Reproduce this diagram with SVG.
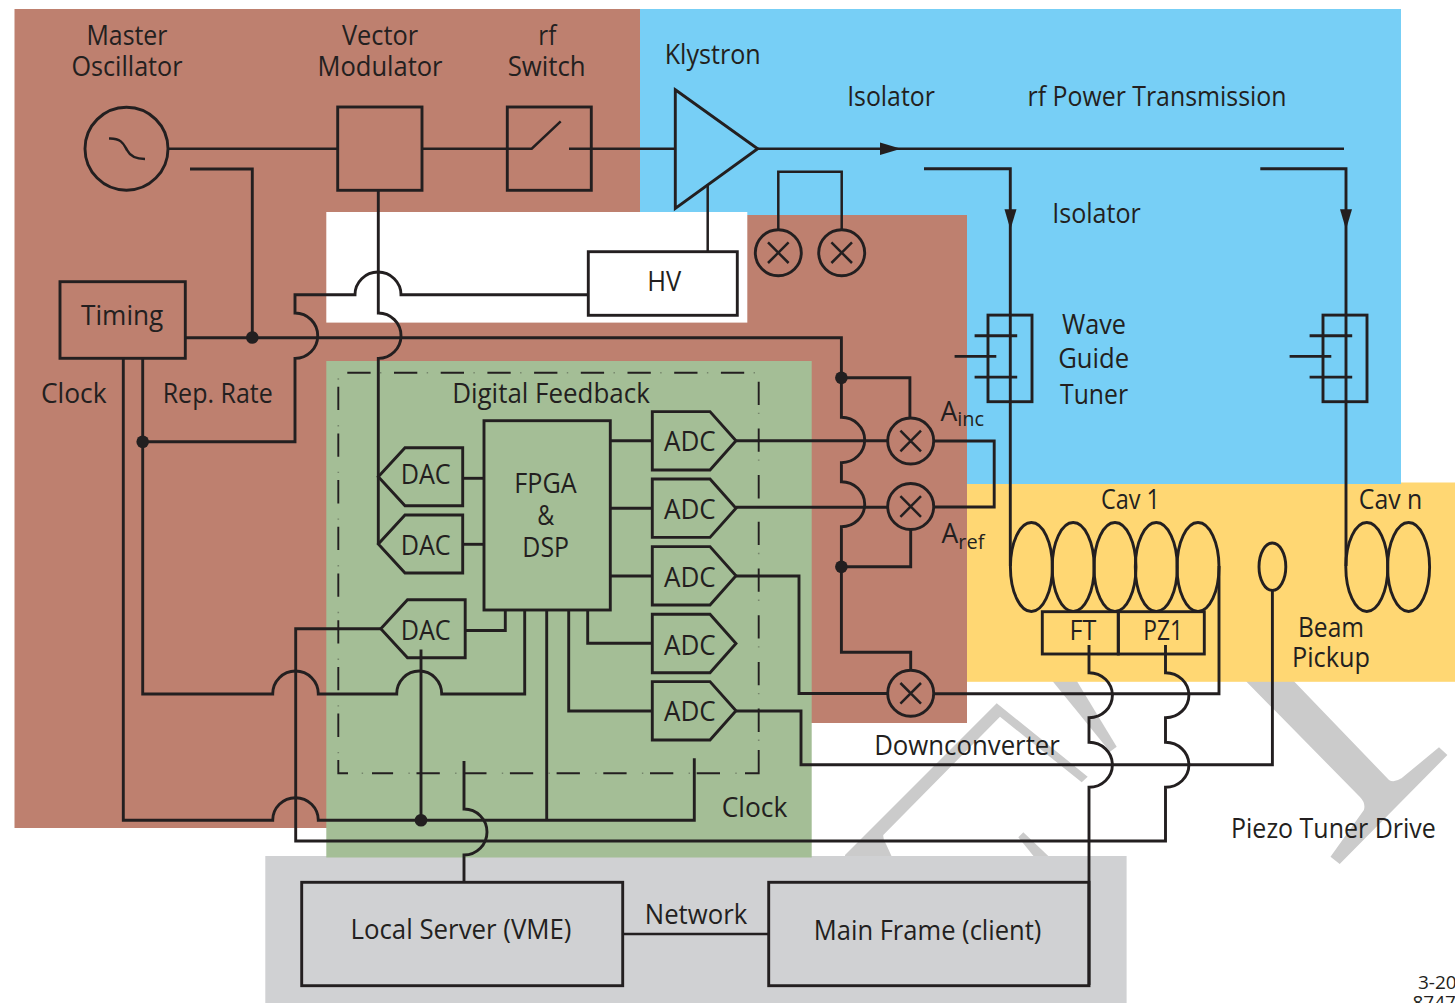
<svg xmlns="http://www.w3.org/2000/svg" width="1455" height="1003" viewBox="0 0 1455 1003">
<defs>
<style>
.l{fill:none;stroke:#231F20;stroke-width:2.5;stroke-linejoin:miter}
.s{fill:none;stroke:#231F20;stroke-width:2.9;stroke-linejoin:miter}
.d{fill:none;stroke:#231F20;stroke-width:1.9;stroke-dasharray:23.3 23.4}
.dd{fill:none;stroke:#231F20;stroke-opacity:.35;stroke-width:1.6;stroke-dasharray:1.4 45.3}
.f{fill:none;stroke:#231F20;stroke-width:1.9}
.dot{fill:#231F20;stroke:none}
.arr{fill:#231F20;stroke:none}
.wm{fill:#CBCBCB;stroke:none}
text{font-family:"Open Sans","Noto Sans","Liberation Sans",sans-serif;font-size:26.5px;fill:#231F20;text-anchor:middle}
.sub{font-size:20px}
.st{text-anchor:start}
.sm{font-size:19px}
</style>
<g id="mixer"><circle r="23" class="s"/><path d="M-10.3,-10.3L10.3,10.3M-10.3,10.3L10.3,-10.3" class="l"/></g>
<path id="adc" d="M0,-29.2H57.7L83.7,0L57.7,29.2H0Z" class="s"/>
<path id="dac" d="M0,0L26.7,-29H84.4V29H26.7Z" class="s"/>
<g id="tuner"><rect x="-22" y="-43.3" width="44" height="86.6" class="s"/><path d="M-35.4,-22.6H7.2M-55.4,-2H-13.7M-35.4,18.7H7.2" class="s"/></g>
</defs>

<g id="background">
<path class="wm" d="M996.7,703.3L1087.7,776.7L1081.7,782.3L1000,716.7L883.3,835Q883,840 886,844L893.3,860H845V855Z"/>
<path class="wm" d="M1023.3,832.3L1018.3,837.3L1036.7,860H1048.3V856Z"/>
<path class="wm" d="M1050,678H1075L1116.7,746.7L1110,751.7Z"/>
<path class="wm" d="M1242.8,678L1359.7,796.7Q1366,803 1363.9,810L1330.5,856.7L1339.7,864L1447.4,755L1439,747.3L1401.5,778.3Q1394,783 1389,780L1290.8,678Z"/>
<rect x="967" y="482.5" width="488" height="199.3" fill="#FFD773"/>
<rect x="640" y="9" width="761" height="475" fill="#77CFF6"/>
<rect x="265.3" y="856" width="861.3" height="147" fill="#D0D1D3"/>
<path d="M14.5,9H640V215H967V723H811V828H14.5Z" fill="#BE806F"/>
<rect x="326.3" y="212" width="421" height="110.6" fill="#FFFFFF"/>
<rect x="326.3" y="361" width="485.4" height="496.5" fill="#A4BE96"/>
</g>

<g id="connectors">
<path class="l" d="M168,148.7H337.7"/>
<path class="l" d="M422,148.7H531.7L560.7,121.3"/>
<path class="l" d="M569,148.7H675.3"/>
<path class="l" d="M757.7,148.7H1344"/>
<path class="arr" d="M880,142.5L901,148.7L880,155Z"/>
<path class="l" d="M707.7,184.3V251.7"/>
<path class="l" d="M778.3,230V171.7H841.7V230"/>
<path class="s" d="M924,168.7H1010.3V566"/>
<path class="arr" d="M1004.5,209.3H1016.5L1010.4,229.5Z"/>
<path class="s" d="M1260.3,168.7H1346V566"/>
<path class="arr" d="M1340,209.3H1352L1346,229.5Z"/>
<path class="s" d="M190,169H252.3V337.5"/>
<path class="s" d="M186,337.7H841.4V417.3A23.3,22.7 0 0 1 841.4,462.7V481.7A23.3,22.5 0 0 1 841.4,526.7V652.3H910.7V670"/>
<path class="s" d="M841.4,377.7H909.9V418"/>
<path class="s" d="M841.4,566.7H910.7V529"/>
<path class="s" d="M378.3,190.3V313A22.7,22.7 0 0 1 378.3,358.4V543.3"/>
<path class="s" d="M142.7,441.7H295V358.4A22.7,22.7 0 0 0 295,313V294.7H355A23,22.7 0 0 1 401,294.7H588.3"/>
<path class="s" d="M142.7,358.3V694H272.7A22.8,23 0 0 1 318.3,694H396.7A22.5,23 0 0 1 441.7,694H524.7V610"/>
<path class="s" d="M123.3,358.3V820.3H272.7A22.8,22.6 0 0 1 318.3,820.3H694.3V758.3"/>
<path class="s" d="M546.7,610V820.3"/>
<path class="s" d="M421,649.5V820.3"/>
<path class="s" d="M464,761V809A23,23 0 0 1 464,855V882.3"/>
<path class="s" d="M381.3,628.7H295.7V841H1165.5V787.3A23.4,22.5 0 0 0 1165.5,742.3V717.7A23.4,22.5 0 0 0 1165.5,672.7V645"/>
<path class="s" d="M1089,645V672.7A23.4,22.5 0 0 1 1089,717.7V742.3A23.4,22.5 0 0 1 1089,787.3V985"/>
<path class="s" d="M462.7,478.3H484"/>
<path class="s" d="M462.7,544.3H484"/>
<path class="s" d="M464.7,630.5H505.3V610"/>
<path class="s" d="M610.3,440.7H652.3"/>
<path class="s" d="M610.3,508.3H652.3"/>
<path class="s" d="M610.3,576H652.3"/>
<path class="s" d="M587.7,610V643.3H652.3"/>
<path class="s" d="M568.7,610V711H652.3"/>
<path class="s" d="M736,440.7H887.7"/>
<path class="s" d="M736,507.3H887.7"/>
<path class="s" d="M933.7,441H994.2V507H933.7"/>
<path class="s" d="M736,576H799V693.5H887.7"/>
<path class="s" d="M933.7,693.7H1219V566"/>
<path class="s" d="M736,711H801V764.7H1272.4V590.4"/>
<path class="l" d="M622.7,934H768.7"/>
<circle class="dot" cx="252.3" cy="337.5" r="6.3"/>
<circle class="dot" cx="142.7" cy="441.7" r="6.3"/>
<circle class="dot" cx="421" cy="820.3" r="6.3"/>
<circle class="dot" cx="841.4" cy="377.7" r="6.3"/>
<circle class="dot" cx="841.4" cy="566.7" r="6.3"/>
</g>

<g id="digital-feedback">
<path class="d" d="M347.3,372.7H745"/>
<path class="d" d="M758.7,381.7V750"/>
<path class="f" d="M758.7,750V773.3H745"/>
<path class="d" d="M720,773.3H372"/>
<path class="f" d="M338.3,760V773.3H348"/>
<path class="d" d="M338.3,386.7V745"/>
<path class="dd" d="M380,372.7H755"/>
<path class="dd" d="M758.7,412.7V760"/>
<path class="dd" d="M361.7,773.3H745"/>
<path class="dd" d="M338.3,378.3V760"/>
<text x="551" y="402.7" textLength="197.7" lengthAdjust="spacingAndGlyphs">Digital Feedback</text>
</g>

<g id="master-oscillator">
<circle cx="126.5" cy="148.7" r="41.5" class="s"/>
<path class="l" d="M109,138.5C122,138 124,145 127,150C130,156 135,159 145,159"/>
<text x="127" y="45" textLength="81" lengthAdjust="spacingAndGlyphs">Master</text>
<text x="127" y="76" textLength="111" lengthAdjust="spacingAndGlyphs">Oscillator</text>
</g>
<g id="vector-modulator">
<rect x="337.7" y="107" width="84.3" height="83.3" class="s"/>
<text x="380" y="45" textLength="76" lengthAdjust="spacingAndGlyphs">Vector</text>
<text x="380" y="76" textLength="125" lengthAdjust="spacingAndGlyphs">Modulator</text>
</g>
<g id="rf-switch">
<rect x="507.3" y="107" width="84" height="83.3" class="s"/>
<text x="547.3" y="44.5" textLength="18" lengthAdjust="spacingAndGlyphs">rf</text>
<text x="546.7" y="75.7" textLength="78" lengthAdjust="spacingAndGlyphs">Switch</text>
</g>
<g id="klystron">
<path d="M675.3,89.7L757.7,148.7L675.3,208.3Z" class="s"/>
<text x="712.7" y="64.3" textLength="96" lengthAdjust="spacingAndGlyphs">Klystron</text>
</g>
<g id="hv">
<rect x="588.3" y="251.7" width="149" height="63.6" class="s"/>
<text x="664.3" y="290.7" textLength="34" lengthAdjust="spacingAndGlyphs">HV</text>
</g>
<g id="timing">
<rect x="60" y="281.7" width="125.3" height="76.6" class="s"/>
<text x="122.2" y="325" textLength="82.3" lengthAdjust="spacingAndGlyphs">Timing</text>
</g>
<g id="fpga-dsp">
<rect x="484" y="420.7" width="126.3" height="189.3" class="s"/>
<text x="545.5" y="492.7" textLength="62.3" lengthAdjust="spacingAndGlyphs">FPGA</text>
<text x="545.7" y="525" textLength="17" lengthAdjust="spacingAndGlyphs">&amp;</text>
<text x="545.7" y="556.7" textLength="46.7" lengthAdjust="spacingAndGlyphs">DSP</text>
</g>
<g id="dac-1"><use href="#dac" x="378.3" y="476.7"/><text x="425.7" y="484.3" textLength="50" lengthAdjust="spacingAndGlyphs">DAC</text></g>
<g id="dac-2"><use href="#dac" x="378.3" y="544"/><text x="425.7" y="555" textLength="50" lengthAdjust="spacingAndGlyphs">DAC</text></g>
<g id="dac-3"><use href="#dac" x="380.8" y="628.8"/><text x="425.7" y="640" textLength="50" lengthAdjust="spacingAndGlyphs">DAC</text></g>
<g id="adc-1"><use href="#adc" x="652.3" y="440.8"/><text x="689.8" y="450.7" textLength="51.7" lengthAdjust="spacingAndGlyphs">ADC</text></g>
<g id="adc-2"><use href="#adc" x="652.3" y="508.2"/><text x="689.8" y="519.3" textLength="51.7" lengthAdjust="spacingAndGlyphs">ADC</text></g>
<g id="adc-3"><use href="#adc" x="652.3" y="575.8"/><text x="689.8" y="586.7" textLength="51.7" lengthAdjust="spacingAndGlyphs">ADC</text></g>
<g id="adc-4"><use href="#adc" x="652.3" y="643.5"/><text x="689.8" y="655" textLength="51.7" lengthAdjust="spacingAndGlyphs">ADC</text></g>
<g id="adc-5"><use href="#adc" x="652.3" y="710.8"/><text x="689.8" y="720.7" textLength="51.7" lengthAdjust="spacingAndGlyphs">ADC</text></g>
<g id="mixer-a"><use href="#mixer" x="778.3" y="252.7"/></g>
<g id="mixer-b"><use href="#mixer" x="841.7" y="252.7"/></g>
<g id="mixer-inc"><use href="#mixer" x="910.7" y="441"/></g>
<g id="mixer-ref"><use href="#mixer" x="910.7" y="506.5"/></g>
<g id="mixer-down"><use href="#mixer" x="910.7" y="693.3"/></g>
<g id="tuner-1"><use href="#tuner" x="1010" y="358.4"/></g>
<g id="tuner-n"><use href="#tuner" x="1345" y="358.4"/></g>
<g id="cav-1">
<ellipse cx="1031.4" cy="567" rx="21" ry="44.5" class="s"/>
<ellipse cx="1073.2" cy="567" rx="21" ry="44.5" class="s"/>
<ellipse cx="1115" cy="567" rx="21" ry="44.5" class="s"/>
<ellipse cx="1156.3" cy="567" rx="21" ry="44.5" class="s"/>
<ellipse cx="1198" cy="567" rx="21" ry="44.5" class="s"/>
<text x="1130.4" y="509.3" textLength="59" lengthAdjust="spacingAndGlyphs">Cav 1</text>
</g>
<g id="cav-n">
<ellipse cx="1366.8" cy="567" rx="21" ry="44.5" class="s"/>
<ellipse cx="1408.6" cy="567" rx="21" ry="44.5" class="s"/>
<text x="1390.6" y="509.3" textLength="63.5" lengthAdjust="spacingAndGlyphs">Cav n</text>
</g>
<g id="ft">
<rect x="1042.3" y="611.7" width="76" height="42.3" class="s"/>
<text x="1083" y="640" textLength="26.8" lengthAdjust="spacingAndGlyphs">FT</text>
</g>
<g id="pz1">
<rect x="1118.3" y="611.7" width="86" height="42.3" class="s"/>
<text x="1163.2" y="640" textLength="39.7" lengthAdjust="spacingAndGlyphs">PZ1</text>
</g>
<g id="beam-pickup">
<ellipse cx="1272.4" cy="566.7" rx="13.4" ry="23.7" class="s"/>
<text x="1331" y="636.7" textLength="66" lengthAdjust="spacingAndGlyphs">Beam</text>
<text x="1331" y="666.7" textLength="78" lengthAdjust="spacingAndGlyphs">Pickup</text>
</g>
<g id="local-server">
<rect x="301.7" y="882.3" width="321" height="103.4" class="s"/>
<text x="461" y="939.3" textLength="221" lengthAdjust="spacingAndGlyphs">Local Server (VME)</text>
</g>
<g id="main-frame">
<rect x="768.7" y="882.3" width="320.3" height="103.4" class="s"/>
<text x="927.6" y="940" textLength="227.6" lengthAdjust="spacingAndGlyphs">Main Frame (client)</text>
</g>

<g id="labels">
<text x="891" y="105.7" textLength="87.7" lengthAdjust="spacingAndGlyphs">Isolator</text>
<text x="1157" y="105.7" textLength="259" lengthAdjust="spacingAndGlyphs">rf Power Transmission</text>
<text x="1096.5" y="222.7" textLength="88.6" lengthAdjust="spacingAndGlyphs">Isolator</text>
<text x="1094" y="334.3" textLength="64" lengthAdjust="spacingAndGlyphs">Wave</text>
<text x="1093.7" y="368.3" textLength="71" lengthAdjust="spacingAndGlyphs">Guide</text>
<text x="1094" y="404.3" textLength="68" lengthAdjust="spacingAndGlyphs">Tuner</text>
<text x="940.5" y="420.7" class="st">A<tspan class="sub" dy="5.5">inc</tspan></text>
<text x="941.5" y="543.3" class="st">A<tspan class="sub" dy="5.5">ref</tspan></text>
<text x="73.8" y="403.3" textLength="65.7" lengthAdjust="spacingAndGlyphs">Clock</text>
<text x="217.7" y="403.3" textLength="110" lengthAdjust="spacingAndGlyphs">Rep. Rate</text>
<text x="754.5" y="816.7" textLength="65.7" lengthAdjust="spacingAndGlyphs">Clock</text>
<text x="967" y="755" textLength="185.7" lengthAdjust="spacingAndGlyphs">Downconverter</text>
<text x="1333.4" y="837.7" textLength="204.7" lengthAdjust="spacingAndGlyphs">Piezo Tuner Drive</text>
<text x="696" y="924.3" textLength="102.3" lengthAdjust="spacingAndGlyphs">Network</text>
<text x="1418" y="989.3" class="st sm">3-20</text>
<text x="1412.5" y="1009.3" class="st sm">8747</text>
</g>
</svg>
